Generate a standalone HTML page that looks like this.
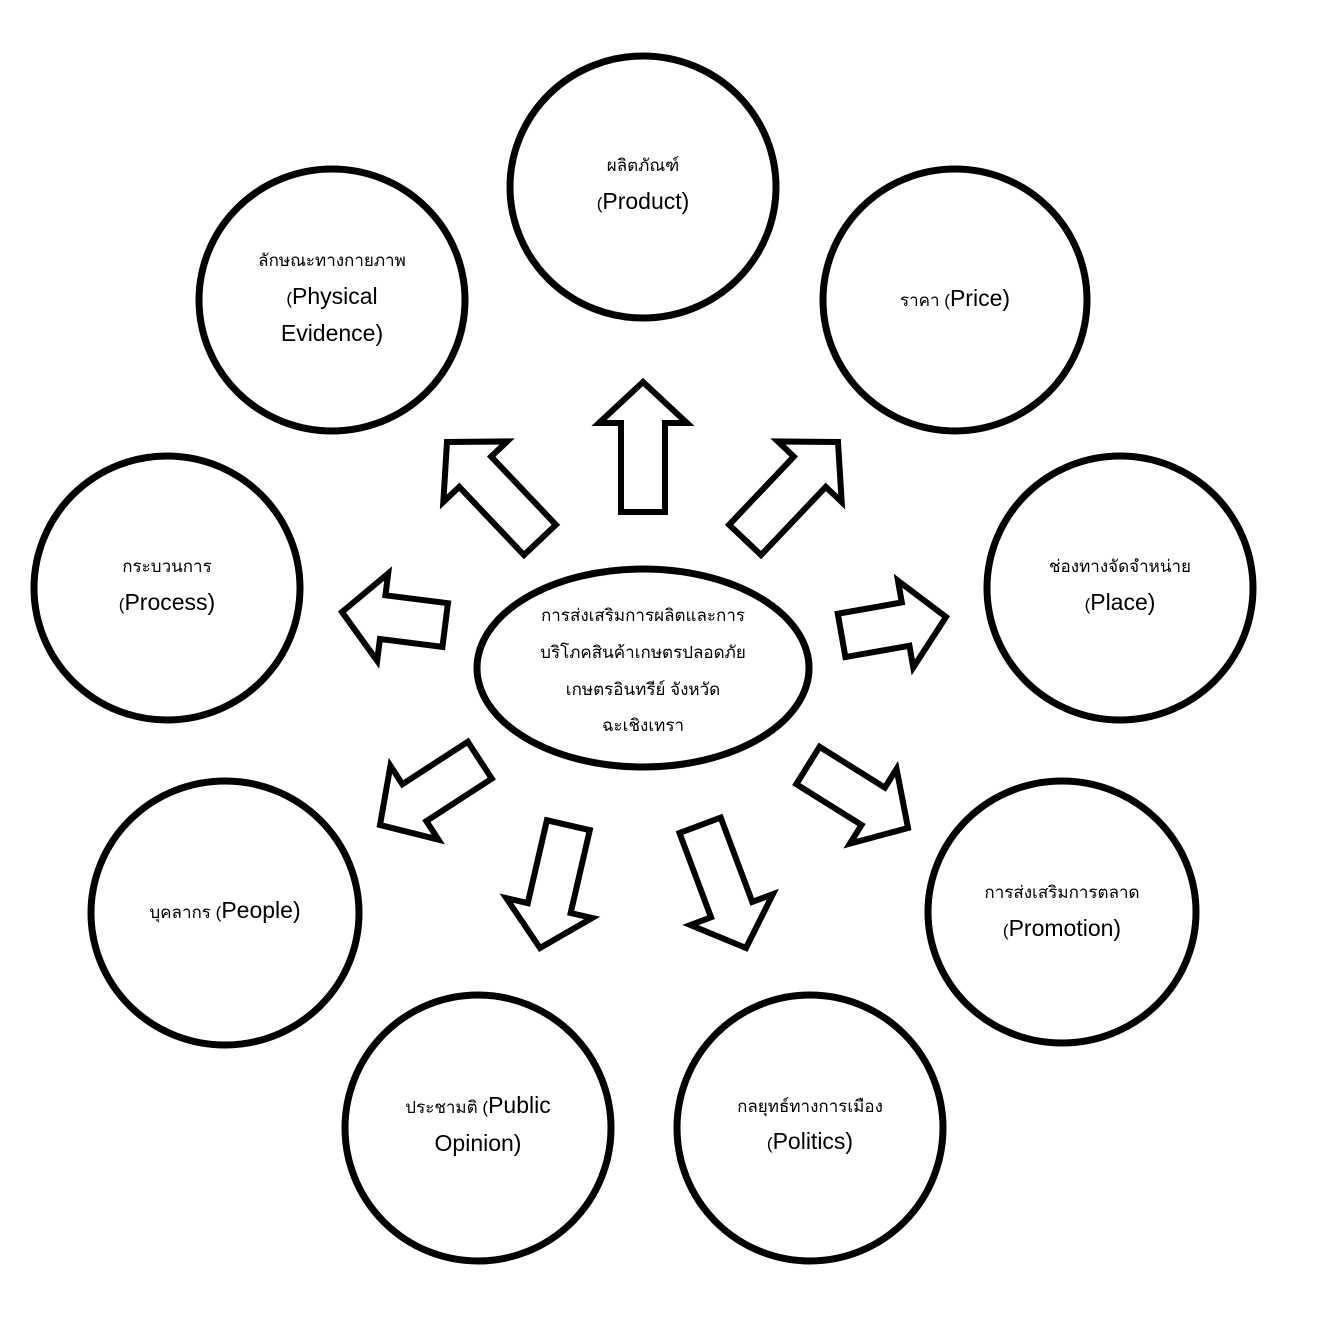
<!DOCTYPE html>
<html><head><meta charset="utf-8"><style>
html,body{margin:0;padding:0;background:#fff;}
svg text{font-family:"Liberation Sans","Noto Sans CJK SC",sans-serif;fill:#000;}
.t{font-size:17px;}
.e{font-size:23px;}
</style></head><body>
<svg width="1322" height="1324" viewBox="0 0 1322 1324" xmlns="http://www.w3.org/2000/svg">
<g fill="none" stroke="#000" stroke-width="7">
<ellipse cx="643" cy="187" rx="133" ry="131"/>
<ellipse cx="955" cy="300" rx="132" ry="131"/>
<ellipse cx="332" cy="300" rx="133" ry="131"/>
<ellipse cx="167" cy="588" rx="133" ry="132"/>
<ellipse cx="1120" cy="588" rx="133" ry="132"/>
<ellipse cx="225" cy="913" rx="134" ry="132"/>
<ellipse cx="1062" cy="912" rx="134" ry="131"/>
<ellipse cx="478" cy="1128" rx="133" ry="133"/>
<ellipse cx="810" cy="1128" rx="133" ry="133"/>
<ellipse cx="643" cy="668" rx="166" ry="99"/>
</g>
<g fill="#fff" stroke="#000" stroke-width="6" stroke-linejoin="miter">
<path transform="translate(643,382) rotate(0)" d="M0,0 L44,41 L22,41 L22,130 L-22,130 L-22,41 L-44,41 Z"/>
<path transform="translate(838,442) rotate(43.5)" d="M0,0 L44,41 L22,41 L22,135 L-22,135 L-22,41 L-44,41 Z"/>
<path transform="translate(447,442) rotate(-43.5)" d="M0,0 L44,41 L22,41 L22,135 L-22,135 L-22,41 L-44,41 Z"/>
<path transform="translate(946,617) rotate(80)" d="M0,0 L44,41 L22,41 L22,106 L-22,106 L-22,41 L-44,41 Z"/>
<path transform="translate(342,612) rotate(-82.8)" d="M0,0 L44,41 L22,41 L22,104 L-22,104 L-22,41 L-44,41 Z"/>
<path transform="translate(908,828) rotate(122)" d="M0,0 L44,41 L22,41 L22,118 L-22,118 L-22,41 L-44,41 Z"/>
<path transform="translate(380,825) rotate(-123)" d="M0,0 L44,41 L22,41 L22,119 L-22,119 L-22,41 L-44,41 Z"/>
<path transform="translate(540,948) rotate(-167)" d="M0,0 L44,41 L22,41 L22,126 L-22,126 L-22,41 L-44,41 Z"/>
<path transform="translate(746,948) rotate(159.5)" d="M0,0 L44,41 L22,41 L22,131 L-22,131 L-22,41 L-44,41 Z"/>
</g>
<g text-anchor="middle">
<text x="643" y="171" class="t">ผลิตภัณฑ์</text>
<text x="643" y="209"><tspan class="t">(</tspan><tspan class="e">Product)</tspan></text>
<text x="955" y="306"><tspan class="t">ราคา (</tspan><tspan class="e">Price)</tspan></text>
<text x="332" y="266" class="t">ลักษณะทางกายภาพ</text>
<text x="332" y="304"><tspan class="t">(</tspan><tspan class="e">Physical</tspan></text>
<text x="332" y="341" class="e">Evidence)</text>
<text x="167" y="572" class="t">กระบวนการ</text>
<text x="167" y="610"><tspan class="t">(</tspan><tspan class="e">Process)</tspan></text>
<text x="1120" y="572" class="t">ช่องทางจัดจำหน่าย</text>
<text x="1120" y="610"><tspan class="t">(</tspan><tspan class="e">Place)</tspan></text>
<text x="225" y="918"><tspan class="t">บุคลากร (</tspan><tspan class="e">People)</tspan></text>
<text x="1062" y="898" class="t">การส่งเสริมการตลาด</text>
<text x="1062" y="936"><tspan class="t">(</tspan><tspan class="e">Promotion)</tspan></text>
<text x="478" y="1113"><tspan class="t">ประชามติ (</tspan><tspan class="e">Public</tspan></text>
<text x="478" y="1151" class="e">Opinion)</text>
<text x="810" y="1112" class="t">กลยุทธ์ทางการเมือง</text>
<text x="810" y="1149"><tspan class="t">(</tspan><tspan class="e">Politics)</tspan></text>
<text x="643" y="621" class="t">การส่งเสริมการผลิตและการ</text>
<text x="643" y="658" class="t">บริโภคสินค้าเกษตรปลอดภัย</text>
<text x="643" y="695" class="t">เกษตรอินทรีย์ จังหวัด</text>
<text x="643" y="731" class="t">ฉะเชิงเทรา</text>
</g>
</svg>
</body></html>
